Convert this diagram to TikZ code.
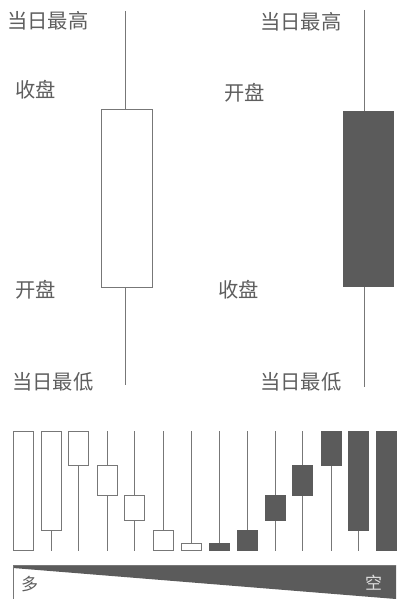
\documentclass[tikz,border=0pt]{standalone}
\usepackage{fontspec}
\newfontfamily\cjk{Noto Sans CJK SC}
\definecolor{inkline}{HTML}{777777}
\definecolor{inkfill}{HTML}{5B5B5B}
\definecolor{inktext}{HTML}{5E5E5E}
\begin{document}
\begin{tikzpicture}[x=1pt,y=-1pt,
  lbl/.style={font=\cjk\fontsize{20.3}{20.3}\selectfont, text=inktext, inner sep=0pt},
  wick/.style={draw=inkline, line width=1pt},
  hollow/.style={draw=inkline, line width=1pt, fill=white},
  solid/.style={draw=inkfill, line width=0.8pt, fill=inkfill}]
\useasboundingbox (0,0) rectangle (397,599);
% ---- big candles
\coordinate (LH) at (125,11);
\coordinate (LL) at (125,385);
\draw[wick] (LH) -- (LL);
\draw[hollow] (101,110) rectangle (152,287);
\coordinate (RH) at (364,10);
\coordinate (RL) at (364,387);
\draw[wick] (RH) -- (RL);
\draw[solid] (343,111) rectangle (393,286);
% ---- labels
\node[lbl, anchor=west] (lhigh) at (7,21) {当日最高};
\node[lbl, anchor=west] (lclose) at (15,90) {收盘};
\node[lbl, anchor=west] (lopen) at (15,290) {开盘};
\node[lbl, anchor=west] (llow) at (12,382) {当日最低};
\node[lbl, anchor=west] (rhigh) at (260,22) {当日最高};
\node[lbl, anchor=west] (ropen) at (224,93) {开盘};
\node[lbl, anchor=west] (rclose) at (218,290) {收盘};
\node[lbl, anchor=west] (rlow) at (260,382) {当日最低};
% ---- row of small candles
\foreach \x/\t/\b/\s in {23/431/550/hollow, 51/431/530/hollow, 78/431/465/hollow,
   107/465/495/hollow, 134/495/520/hollow, 163/530/550/hollow, 191/543/550/hollow,
   219/543/550/solid, 247/530/550/solid, 275/495/520/solid, 302/465/495/solid,
   331/431/465/solid, 358/431/530/solid, 386.5/431/550/solid}{
  \draw[wick] (\x,431) -- (\x,551);
  \draw[\s] (\x-10,\t) rectangle (\x+10,\b);
}
% ---- gradient bar
\fill[inkfill] (13,565) -- (396,565) -- (396,599) -- (13,568) -- cycle;
\draw[inkline, line width=1pt] (13,599) -- (13,565) -- (396,565);
\node[lbl, font=\cjk\fontsize{17}{17}\selectfont, anchor=west] (duo) at (21,584) {多};
\node[lbl, font=\cjk\fontsize{17}{17}\selectfont, text=white!80!inkfill, anchor=west] (kong) at (365,583) {空};
\end{tikzpicture}
\end{document}
